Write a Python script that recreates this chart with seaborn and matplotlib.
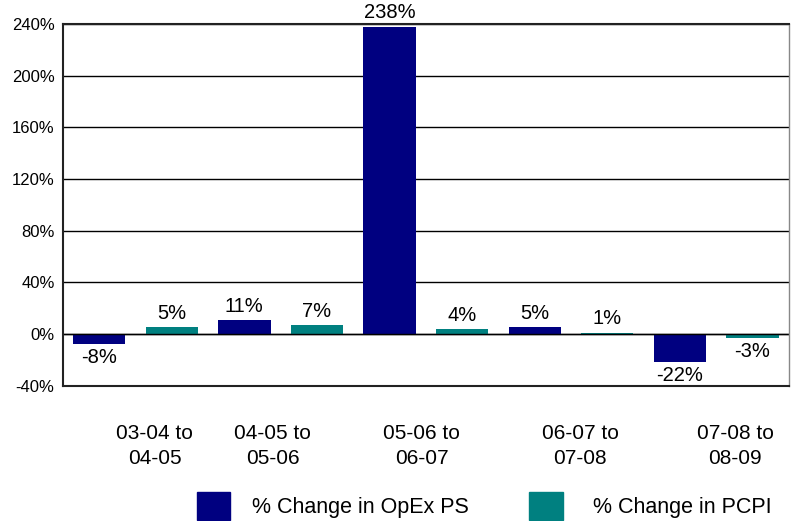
import numpy as np
import pandas as pd
import seaborn as sns
import matplotlib.pyplot as plt
import matplotlib.patches as mpatches
from matplotlib.transforms import ScaledTranslation

periods = ['03-04 to\n04-05', '04-05 to\n05-06', '05-06 to\n06-07', '06-07 to\n07-08', '07-08 to\n08-09']
opex_ps = [-8, 11, 238, 5, -22]
pcpi = [5, 7, 4, 1, -3]
series = ['% Change in OpEx PS', '% Change in PCPI']
colors = ['#000080', '#008080']
yticks = [-40, 0, 40, 80, 120, 160, 200, 240]

df = pd.DataFrame({
    'period': periods * 2,
    'value': opex_ps + pcpi,
    'series': [series[0]] * len(periods) + [series[1]] * len(periods),
})

sns.set_style('white')
plt.rcParams['font.family'] = ['Liberation Sans', 'DejaVu Sans']
plt.rcParams['text.color'] = 'black'
plt.rcParams['xtick.color'] = 'black'
plt.rcParams['ytick.color'] = 'black'

fig = plt.figure(figsize=(7.96, 5.21), dpi=100)
ax = fig.add_axes([0.079, 0.260, 0.912, 0.694])

sns.barplot(data=df, x='period', y='value', hue='series', palette=colors,
            width=1.0, gap=0.28, legend=False, ax=ax, saturation=1, linewidth=0)

for c in ax.containers:
    ax.bar_label(c, fmt='{:.0f}%', padding=3, fontsize=14.5)

ax.set_ylim(-40, 240)
ax.set_yticks(yticks)
ax.set_yticklabels([f'{t}%' for t in yticks], fontsize=12)
ax.yaxis.grid(True, color='black', linewidth=1)
ax.set_axisbelow(True)
ax.axhline(0, color='black', linewidth=1)
ax.set_xlabel('')
ax.set_ylabel('')
ax.tick_params(axis='both', length=0)
ax.tick_params(axis='x', labelsize=15, pad=28)
ax.tick_params(axis='y', pad=6)

# the category labels in the original sit a bit off-centre
label_shift = [19, -8, -4, 9, 19]
for lab, dx in zip(ax.get_xticklabels(), label_shift):
    lab.set_linespacing(1.35)
    lab.set_transform(lab.get_transform() + ScaledTranslation(dx / 100, 0, fig.dpi_scale_trans))

for side in ['left', 'bottom', 'top']:
    ax.spines[side].set_color('#222222')
    ax.spines[side].set_linewidth(1.5)
ax.spines['right'].set_color('#888888')
ax.spines['right'].set_linewidth(1)

# two separate legend entries, spaced like the original
legend_x = [0.247, 0.665]
text_pad = [1.0, 1.4]
for c, s, lx, tp in zip(colors, series, legend_x, text_pad):
    fig.legend(handles=[mpatches.Patch(color=c, label=s)], loc='center left',
               bbox_to_anchor=(lx, 0.029), frameon=False, fontsize=15.5,
               handlelength=1.55, handleheight=1.6, handletextpad=tp, borderpad=0,
               borderaxespad=0)

fig.savefig('out.png', dpi=100)
